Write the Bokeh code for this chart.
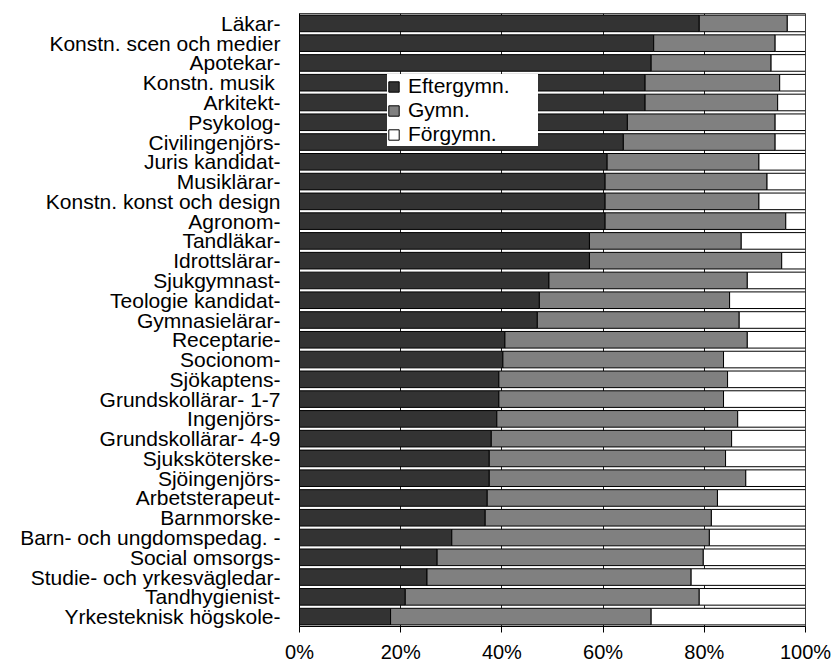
from bokeh.plotting import figure
from bokeh.models import ColumnDataSource, FactorRange, FixedTicker, PrintfTickFormatter, Legend, LegendItem
from bokeh.embed import file_html
from bokeh.resources import INLINE

categories = [
    "Läkar-", "Konstn. scen och medier", "Apotekar-", "Konstn.  musik", "Arkitekt-",
    "Psykolog-", "Civilingenjörs-", "Juris kandidat-", "Musiklärar-",
    "Konstn. konst och design", "Agronom-", "Tandläkar-", "Idrottslärar-",
    "Sjukgymnast-", "Teologie kandidat-", "Gymnasielärar-", "Receptarie-",
    "Socionom-", "Sjökaptens-", "Grundskollärar- 1-7", "Ingenjörs-",
    "Grundskollärar- 4-9", "Sjuksköterske-", "Sjöingenjörs-", "Arbetsterapeut-",
    "Barnmorske-", "Barn- och ungdomspedag. -", "Social omsorgs-",
    "Studie- och yrkesvägledar-", "Tandhygienist-", "Yrkesteknisk högskole-",
]
eftergymn = [79.0, 70.0, 69.5, 68.3, 68.3, 64.8, 64.0, 60.8, 60.4, 60.4, 60.4,
             57.3, 57.3, 49.3, 47.4, 47.0, 40.6, 40.2, 39.4, 39.4, 39.0, 37.9,
             37.5, 37.5, 37.1, 36.7, 30.1, 27.2, 25.2, 20.9, 18.0]
gymn = [17.4, 24.0, 23.7, 26.6, 26.2, 29.2, 30.0, 30.0, 32.0, 30.4, 35.7,
        30.0, 38.0, 39.2, 37.6, 39.9, 47.9, 43.6, 45.2, 44.4, 47.6, 47.5,
        46.7, 50.7, 45.5, 44.7, 50.9, 52.6, 52.2, 58.1, 51.5]
forgymn = [round(100 - a - b, 1) for a, b in zip(eftergymn, gymn)]
series_names = ["Eftergymn.", "Gymn.", "Förgymn."]
x_ticks = [0, 20, 40, 60, 80, 100]

colors = ["#333333", "#808080", "#ffffff"]
FONT = "Liberation Sans"

source = ColumnDataSource(dict(cat=categories, efter=eftergymn, gymn=gymn, forg=forgymn))

p = figure(
    y_range=FactorRange(factors=list(reversed(categories)), range_padding=0),
    x_range=(0, 100),
    frame_width=506, frame_height=613,
    min_border_left=299, min_border_right=29, min_border_top=13, min_border_bottom=44,
    output_backend="svg", toolbar_location=None,
    background_fill_color="white", border_fill_color="white",
)

renderers = p.hbar_stack(
    ["efter", "gymn", "forg"], y="cat", height=0.84, source=source,
    color=colors, line_color="black", line_width=1,
)
for r, c in zip(renderers, colors):
    r.glyph.fill_color = c
    r.glyph.line_color = "black"

legend = Legend(
    items=[LegendItem(label=n, renderers=[r]) for n, r in zip(series_names, renderers)],
    location=(88, 480),
    padding=8, spacing=0, margin=0,
    label_height=20, glyph_height=13, glyph_width=13, label_standoff=8, label_width=130,
    label_text_font=FONT, label_text_font_size="21px", label_text_color="black",
    border_line_color=None, background_fill_color="white", background_fill_alpha=1.0,
)
p.add_layout(legend)

p.outline_line_color = "#444444"
p.outline_line_width = 1

p.ygrid.grid_line_color = None
p.xgrid.grid_line_color = "#222222"
p.xgrid.ticker = FixedTicker(ticks=x_ticks)

p.xaxis.ticker = FixedTicker(ticks=x_ticks)
p.xaxis.formatter = PrintfTickFormatter(format="%d%%")
p.xaxis.major_tick_out = 6
p.xaxis.major_tick_in = 0
p.xaxis.minor_tick_line_color = None
p.xaxis.axis_line_color = "black"
p.xaxis.major_tick_line_color = "black"
p.xaxis.major_label_standoff = 8
p.xaxis.major_label_text_font = FONT
p.xaxis.major_label_text_font_size = "20px"
p.xaxis.major_label_text_color = "black"

p.yaxis.major_tick_line_color = None
p.yaxis.minor_tick_line_color = None
p.yaxis.axis_line_color = "black"
p.yaxis.major_label_standoff = 13
p.yaxis.major_label_text_font = FONT
p.yaxis.major_label_text_font_size = "21px"
p.yaxis.major_label_text_color = "black"

open("out.html", "w").write(file_html(p, INLINE))
